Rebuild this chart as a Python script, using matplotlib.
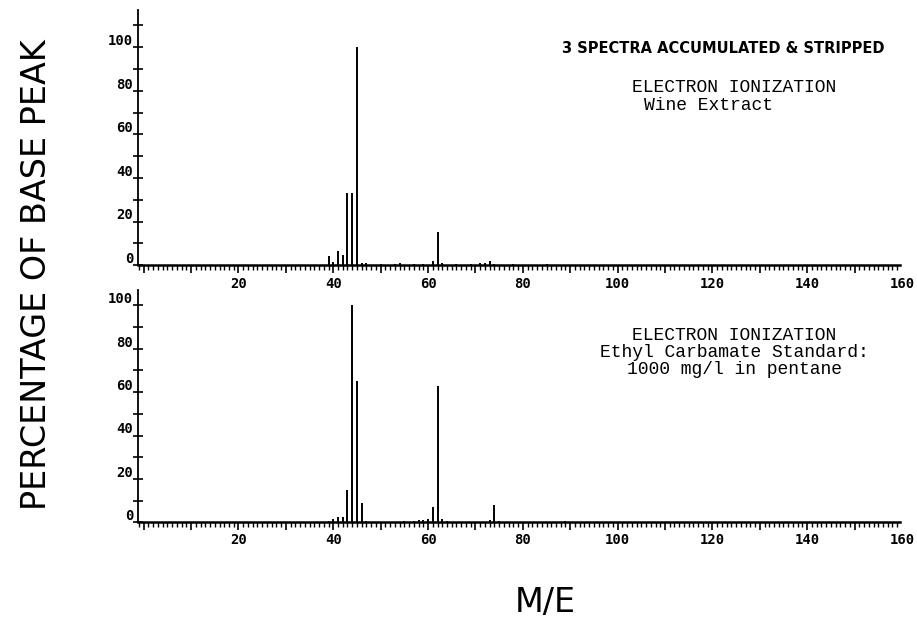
import matplotlib
matplotlib.use("Agg")
import matplotlib.pyplot as plt
from matplotlib.ticker import MultipleLocator

# wine extract spectrum (m/e, % of base peak)
wine_mz = [39, 40, 41, 42, 43, 44, 45, 46, 47, 50, 53, 54, 57, 59, 61, 62, 63,
           66, 69, 71, 72, 73, 74, 78, 85]
wine_int = [4, 1.5, 6.5, 4.5, 33, 33, 100, 1, 0.8, 0.4, 0.5, 0.8, 0.6, 0.5, 2,
            15, 0.8, 0.4, 0.6, 1, 0.8, 2, 0.6, 0.4, 0.5]

# ethyl carbamate standard
std_mz = [39, 40, 41, 42, 43, 44, 45, 46, 47, 55, 57, 58, 59, 60, 61, 62, 63,
          64, 73, 74, 75, 89]
std_int = [0.8, 1.5, 2.5, 2.5, 15, 100, 65, 9, 0.8, 0.6, 0.8, 1, 1, 1.5, 7,
           63, 1.5, 0.5, 1, 8, 0.5, 0.5]

x_labels = [20, 40, 60, 80, 100, 120, 140, 160]
y_labels = [0, 20, 40, 60, 80, 100]

tick_font = dict(family="DejaVu Sans Mono", size=10, weight="bold")
note_font = dict(family="Liberation Mono", size=13)
big_font = dict(family="DejaVu Sans", size=24)

fig = plt.figure(figsize=(9.17, 6.24), dpi=100)
ax1 = fig.add_axes([0.1505, 0.575, 0.8305, 0.409])
ax2 = fig.add_axes([0.1505, 0.163, 0.8305, 0.372])


def style(ax, top):
    ax.set_xlim(-1.2, 159.5)
    ax.set_ylim(0, top)
    for s in ["top", "right"]:
        ax.spines[s].set_visible(False)
    ax.spines["left"].set_linewidth(1.3)
    ax.spines["bottom"].set_linewidth(1.8)
    ax.xaxis.set_major_locator(MultipleLocator(10))
    ax.xaxis.set_minor_locator(MultipleLocator(1))
    ax.tick_params(axis="x", which="major", direction="out", length=6, width=1.2)
    ax.tick_params(axis="x", which="minor", direction="out", length=3.5, width=1.0)
    ax.set_xticklabels([])
    for v in x_labels:
        ax.text(v, -0.045, str(v), transform=ax.get_xaxis_transform(),
                ha="center", va="top", **tick_font)
    ax.yaxis.set_major_locator(MultipleLocator(10))
    ax.tick_params(axis="y", which="major", direction="inout", length=7, width=1.2)
    ax.set_yticklabels([])
    for v in y_labels:
        ax.text(-2.2, v + 2.8, str(v), ha="right", va="center", **tick_font)


style(ax1, 117)
style(ax2, 107)

ax1.vlines(wine_mz, 0, wine_int, colors="black", linewidth=1.4)
ax2.vlines(std_mz, 0, std_int, colors="black", linewidth=1.4)

ax1.text(0.98, 0.85, "3 SPECTRA ACCUMULATED & STRIPPED", transform=ax1.transAxes,
         ha="right", va="center", family="DejaVu Sans", size=10.5, weight="bold")
ax1.text(0.783, 0.695, "ELECTRON IONIZATION", transform=ax1.transAxes,
         ha="center", va="center", **note_font)
ax1.text(0.664, 0.625, "Wine Extract", transform=ax1.transAxes,
         ha="left", va="center", **note_font)
ax2.text(0.783, 0.73, "ELECTRON IONIZATION\nEthyl Carbamate Standard:\n1000 mg/l in pentane",
         transform=ax2.transAxes, ha="center", va="center", linespacing=1.0, **note_font)

fig.text(0.04, 0.56, "PERCENTAGE OF BASE PEAK", rotation=90, ha="center", va="center",
         **big_font)
fig.text(0.595, 0.035, "M/E", ha="center", va="center", **big_font)

fig.savefig("out.png", dpi=100)
